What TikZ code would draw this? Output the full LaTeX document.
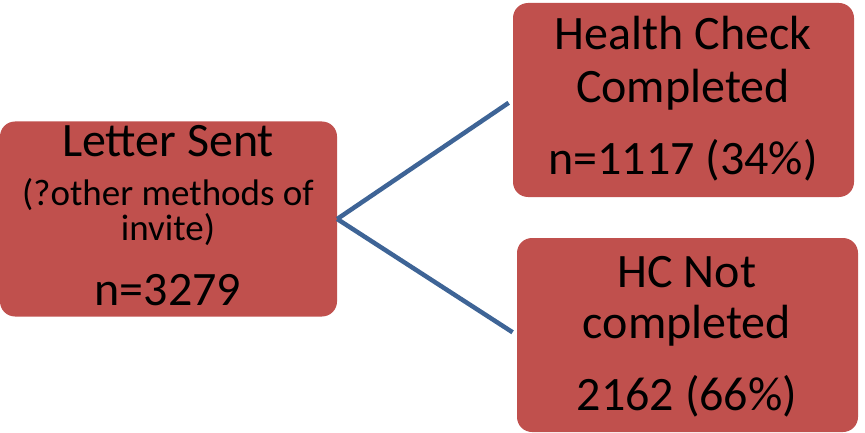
\documentclass[tikz,border=0pt]{standalone}
\usepackage{fontspec}
\setmainfont{Carlito}
\usepackage{xcolor}
\usepackage{tikz}

\definecolor{boxred}{HTML}{C0504D}
\definecolor{linkblue}{HTML}{3E6496}

\begin{document}
\begin{tikzpicture}[x=1pt,y=-1pt,
  box/.style={fill=boxred, draw=none, rounded corners=15pt, inner sep=0pt},
  bigtext/.style={anchor=base, inner sep=0pt, font=\fontsize{48}{50}\selectfont},
  smalltext/.style={anchor=base, inner sep=0pt, font=\fontsize{37}{38}\selectfont},
  link/.style={linkblue, line width=4.5pt, shorten >=5pt}]
  \useasboundingbox (0,0) rectangle (865,433);

  % Boxes
  \node[box, minimum width=337pt, minimum height=195pt] (sent) at (168.5,219) {};
  \node[box, minimum width=341pt, minimum height=194pt] (done) at (683.5,100) {};
  \node[box, minimum width=341pt, minimum height=194pt] (notdone) at (687.5,335) {};

  % Letter sent
  \node[bigtext]   (sentA) at (168,157) {Letter Sent};
  \node[smalltext] (sentB) at (168,205) {(?other methods of};
  \node[smalltext] (sentC) at (168,240) {invite)};
  \node[bigtext]   (sentN) at (168,305) {n=3279};

  % Health check completed
  \node[bigtext] (doneA) at (683,50)  {Health Check};
  \node[bigtext] (doneB) at (683,103) {Completed};
  \node[bigtext] (doneN) at (683,175) {n=1117 (34\%)};

  % HC not completed
  \node[bigtext] (notdoneA) at (687,287) {HC Not};
  \node[bigtext] (notdoneB) at (687,338) {completed};
  \node[bigtext] (notdoneN) at (687,410) {2162 (66\%)};

  % Branches
  \draw[link] (sent.east) -- (done.west);
  \draw[link] (sent.east) -- (notdone.west);
\end{tikzpicture}
\end{document}
